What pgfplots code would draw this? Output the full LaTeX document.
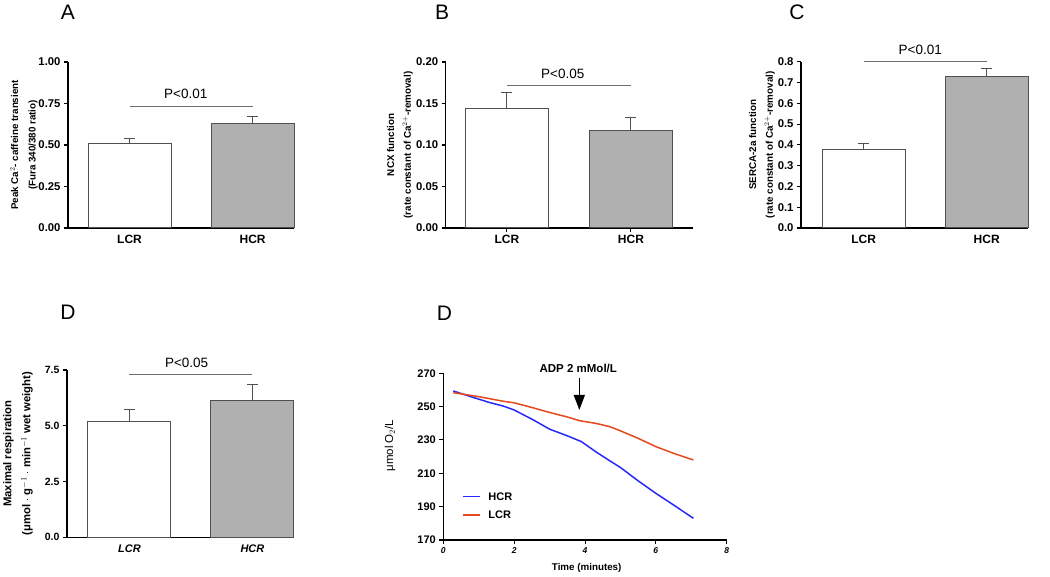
\documentclass[border=0pt]{standalone}
\usepackage{fontspec}
\setmainfont{Liberation Sans}
\usepackage{pgfplots}
\pgfplotsset{compat=1.18}
\usetikzlibrary{arrows.meta}
\definecolor{barfill}{RGB}{176,176,176}
\definecolor{baredge}{RGB}{80,80,80}
\definecolor{pline}{RGB}{110,110,110}
\definecolor{hcrblue}{RGB}{40,40,250}
\definecolor{lcrred}{RGB}{232,72,30}
\newcommand{\fs}[1]{\fontsize{#1}{#1}\selectfont}
\pgfplotsset{
 barpanel/.style={
  scale only axis, anchor=south west,
  axis x line*=bottom, axis y line*=left,
  axis line style={line width=1.3pt, black},
  ymin=0, xtick={0,1}, xticklabels={LCR,HCR},
  x tick style={draw=none},
  y tick style={line width=1.1pt, black},
  tick align=outside, major tick length=4pt,
  yticklabel style={font=\bfseries\fs{11.3}},
  xticklabel style={font=\bfseries\fs{12}},
  ylabel style={font=\bfseries\fontsize{9.8}{16.7}\selectfont, align=center, anchor=center},
  clip=false,
  ybar, bar width=83pt, bar shift=0pt,
 },
 lcrbar/.style={fill=white, draw=baredge, line width=1pt},
 hcrbar/.style={fill=barfill, draw=baredge, line width=1pt},
 errb/.style={error bars/.cd, y dir=plus, y explicit, error mark=|,
   error bar style={line width=1pt, color=baredge},
   error mark options={mark size=5.5pt, line width=1pt, color=baredge}},
}
\begin{document}
\begin{tikzpicture}
\path[use as bounding box] (0pt,0pt) rectangle (1050pt,576pt);
% Panel letters
\node[font=\fs{21}] at (68pt,563.5pt) {A};
\node[font=\fs{21}] at (442pt,563.5pt) {B};
\node[font=\fs{21}] at (797pt,563.5pt) {C};
\node[font=\fs{21}] at (68pt,263.5pt) {D};
\node[font=\fs{21}] at (444.5pt,263pt) {D};

% Panel A
\begin{axis}[barpanel, at={(68pt,348pt)}, width=226pt, height=166pt,
  xmin=-0.5, xmax=1.336, ymax=1,
  ytick={0,0.25,0.5,0.75,1}, yticklabels={0.00,0.25,0.50,0.75,1.00},
  ylabel={Peak Ca$^{2}$- caffeine transient\\(Fura 340/380 ratio)},
  ylabel style={at={(axis description cs:-0.195,0.5)}, font=\bfseries\fontsize{9.8}{17.5}\selectfont}]
\addplot[lcrbar, errb] coordinates {(0,0.51) +- (0,0.03)};
\addplot[hcrbar, errb] coordinates {(1,0.63) +- (0,0.04)};
\draw[pline, line width=0.9pt] (axis cs:0,0.735) -- (axis cs:1,0.735);
\node[font=\fs{13.5}, anchor=base, inner sep=0pt] at ([yshift=7pt]axis cs:0.457,0.735) {P<0.01};
\end{axis}

% Panel B
\begin{axis}[barpanel, at={(445.7pt,348pt)}, width=247.3pt, height=166pt,
  xmin=-0.494, xmax=1.5, ymax=0.2,
  x tick style={draw=black, line width=1pt}, 
  ytick={0,0.05,0.1,0.15,0.2}, yticklabels={0.00,0.05,0.10,0.15,0.20},
  ylabel={NCX function\\(rate constant of Ca$^{2+}$-removal)},
  ylabel style={at={(axis description cs:-0.185,0.5)}}]
\addplot[lcrbar, errb] coordinates {(0,0.144) +- (0,0.019)};
\addplot[hcrbar, errb] coordinates {(1,0.118) +- (0,0.015)};
\draw[pline, line width=0.9pt] (axis cs:0,0.172) -- (axis cs:1,0.172);
\node[font=\fs{13.5}, anchor=base, inner sep=0pt] at ([yshift=7pt]axis cs:0.45,0.172) {P<0.05};
\end{axis}

% Panel C
\begin{axis}[barpanel, at={(801pt,348pt)}, width=227pt, height=166.3pt,
  xmin=-0.51, xmax=1.336, ymax=0.8,
  ytick={0,0.1,0.2,0.3,0.4,0.5,0.6,0.7,0.8}, yticklabels={0.0,0.1,0.2,0.3,0.4,0.5,0.6,0.7,0.8},
  ylabel={SERCA-2a function\\(rate constant of Ca$^{2+}$-removal)},
  ylabel style={at={(axis description cs:-0.172,0.5)}}]
\addplot[lcrbar, errb] coordinates {(0,0.38) +- (0,0.025)};
\addplot[hcrbar, errb] coordinates {(1,0.73) +- (0,0.035)};
\draw[pline, line width=0.9pt] (axis cs:0,0.803) -- (axis cs:1,0.803);
\node[font=\fs{13.5}, anchor=base, inner sep=0pt] at ([yshift=7pt]axis cs:0.46,0.803) {P<0.01};
\end{axis}

% Panel D (bars)
\begin{axis}[barpanel, at={(67pt,38.7pt)}, width=227pt, height=167.3pt,
  xmin=-0.508, xmax=1.338, ymax=7.5,
  ytick={0,2.5,5,7.5}, yticklabels={0.0,2.5,5.0,7.5},
  yticklabel style={font=\bfseries\fs{10.5}},
  xticklabel style={font=\bfseries\itshape\fs{11}},
  ylabel={Maximal respiration\\(μmol $\cdot$ g$^{-1}$ $\cdot$ min$^{-1}$ wet weight)},
  ylabel style={font=\bfseries\fontsize{11.3}{19}\selectfont, at={(axis description cs:-0.216,0.5)}}]
\addplot[lcrbar, errb] coordinates {(0,5.2) +- (0,0.52)};
\addplot[hcrbar, errb] coordinates {(1,6.12) +- (0,0.73)};
\draw[pline, line width=0.9pt] (axis cs:0,7.32) -- (axis cs:1,7.32);
\node[font=\fs{13.5}, anchor=base, inner sep=0pt] at ([yshift=7pt]axis cs:0.465,7.32) {P<0.05};
\end{axis}

% Panel D (traces)
\begin{axis}[scale only axis, anchor=south west, at={(443.3pt,36pt)}, width=283.4pt, height=166.7pt,
  axis x line*=bottom, axis y line*=left,
  axis line style={line width=1.1pt, black},
  tick style={line width=1pt, black}, tick align=outside, major tick length=4pt,
  xmin=0, xmax=8, ymin=170, ymax=270,
  xtick={0,2,4,6,8}, ytick={170,190,210,230,250,270},
  xticklabels={0,2,4,6,8}, yticklabels={170,190,210,230,250,270},
  yticklabel style={font=\bfseries\fs{11}},
  xticklabel style={font=\bfseries\itshape\fs{8.5}},
  ylabel={μmol O$_2$/L}, ylabel style={font=\fs{11.5}, anchor=center, at={(axis description cs:-0.188,0.566)}},
  xlabel={Time (minutes)}, xlabel style={font=\bfseries\fs{9.8}, anchor=center, at={(axis description cs:0.506,-0.168)}},
  clip=false,
]
\addplot[color=hcrblue, line width=1.5pt] coordinates {
(0.28,259.4) (0.7,256.5) (1.0,254.5) (1.3,252.5) (1.7,250.3) (2.0,248) (2.5,242.5)
(3.0,236.5) (3.5,232.5) (3.9,229) (4.3,223) (4.7,217.5) (5.0,213.5) (5.5,205.5)
(6.0,198) (6.5,191) (7.06,183)};
\addplot[color=lcrred, line width=1.5pt] coordinates {
(0.28,258.4) (1.0,256) (1.7,253.2) (2.0,252.3) (2.5,249.5) (3.0,246.5) (3.5,243.8)
(3.86,241.5) (4.3,240) (4.7,238) (5.0,235.5) (5.5,231) (6.0,226) (6.5,222) (7.06,218)};
% legend
\draw[hcrblue, line width=1.5pt] (axis cs:0.55,196) -- (axis cs:1.04,196);
\node[font=\bfseries\fs{11}, anchor=west, inner sep=0pt] at (axis cs:1.27,196) {HCR};
\draw[lcrred, line width=1.5pt] (axis cs:0.55,185) -- (axis cs:1.04,185);
\node[font=\bfseries\fs{11}, anchor=west, inner sep=0pt] at (axis cs:1.27,185) {LCR};
\draw[line width=1.5pt, -{Triangle[length=15pt,width=11pt]}] (axis cs:3.84,267) -- (axis cs:3.84,248);
\node[font=\bfseries\fs{11.5}] at (axis cs:3.81,273) {ADP 2 mMol/L};
\end{axis}
\end{tikzpicture}
\end{document}
